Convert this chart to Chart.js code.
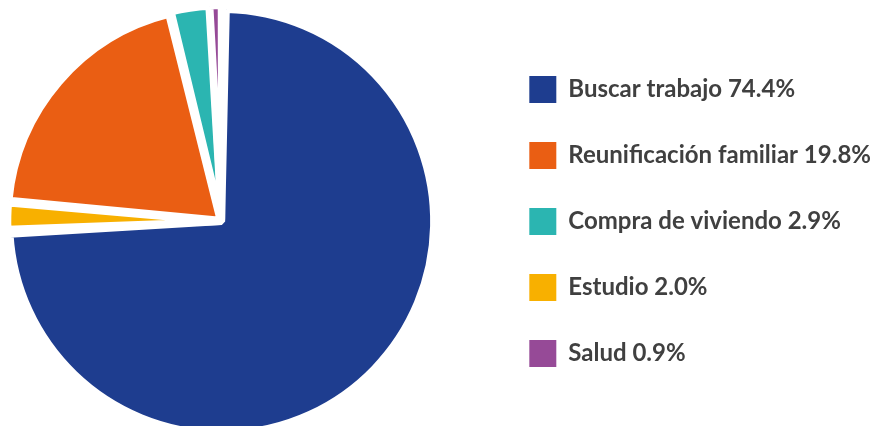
<!DOCTYPE html>
<html>
<head>
<meta charset="utf-8">
<script src="https://cdn.jsdelivr.net/npm/chart.js@4.4.1/dist/chart.umd.min.js"></script>
<style>
  html, body { margin: 0; padding: 0; background: #fff; overflow: hidden; }
  #wrap { position: relative; width: 877px; height: 426px; overflow: hidden; }
  #motivos { position: absolute; left: -47px; top: 0; }
</style>
</head>
<body>
<div id="wrap"><canvas id="motivos" width="928" height="443"></canvas></div>
<script>
// slices in drawing order (clockwise from the top)
const categories = ['Buscar trabajo', 'Estudio', 'Reunificación familiar', 'Compra de viviendo', 'Salud']
const values = [74.4, 2.0, 19.8, 2.9, 0.9]
const colors = ['#1e3d8f', '#f8b000', '#ea5e13', '#2bb5b1', '#964a97']
// how far each slice is pulled out of the pie
const explode = [0, 4, 8, 8, 8]
// legend reads in a different order than the slices
const legendOrder = ['Buscar trabajo', 'Reunificación familiar', 'Compra de viviendo', 'Estudio', 'Salud']

const baseLabels = Chart.overrides.pie.plugins.legend.labels.generateLabels

new Chart(document.getElementById('motivos'), {
  type: 'pie',
  data: {
    labels: categories,
    datasets: [{
      data: values,
      backgroundColor: colors,
      borderColor: '#ffffff',
      borderWidth: 7,
      offset: explode
    }]
  },
  options: {
    responsive: false,
    animation: false,
    rotation: 0,
    spacing: 2,
    radius: 211,
    plugins: {
      tooltip: { enabled: false },
      legend: {
        position: 'right',
        labels: {
          boxWidth: 27,
          boxHeight: 27,
          padding: 39,
          color: '#404040',
          font: { family: 'Lato', size: 24, weight: 'bold' },
          generateLabels(chart) {
            return baseLabels(chart).map(item => ({
              ...item,
              text: categories[item.index] + ' ' + values[item.index].toFixed(1) + '%',
              lineWidth: 0,
              strokeStyle: 'rgba(0,0,0,0)'
            }))
          },
          sort: (a, b) => legendOrder.indexOf(categories[a.index]) - legendOrder.indexOf(categories[b.index])
        }
      }
    }
  }
})
</script>
</body>
</html>
